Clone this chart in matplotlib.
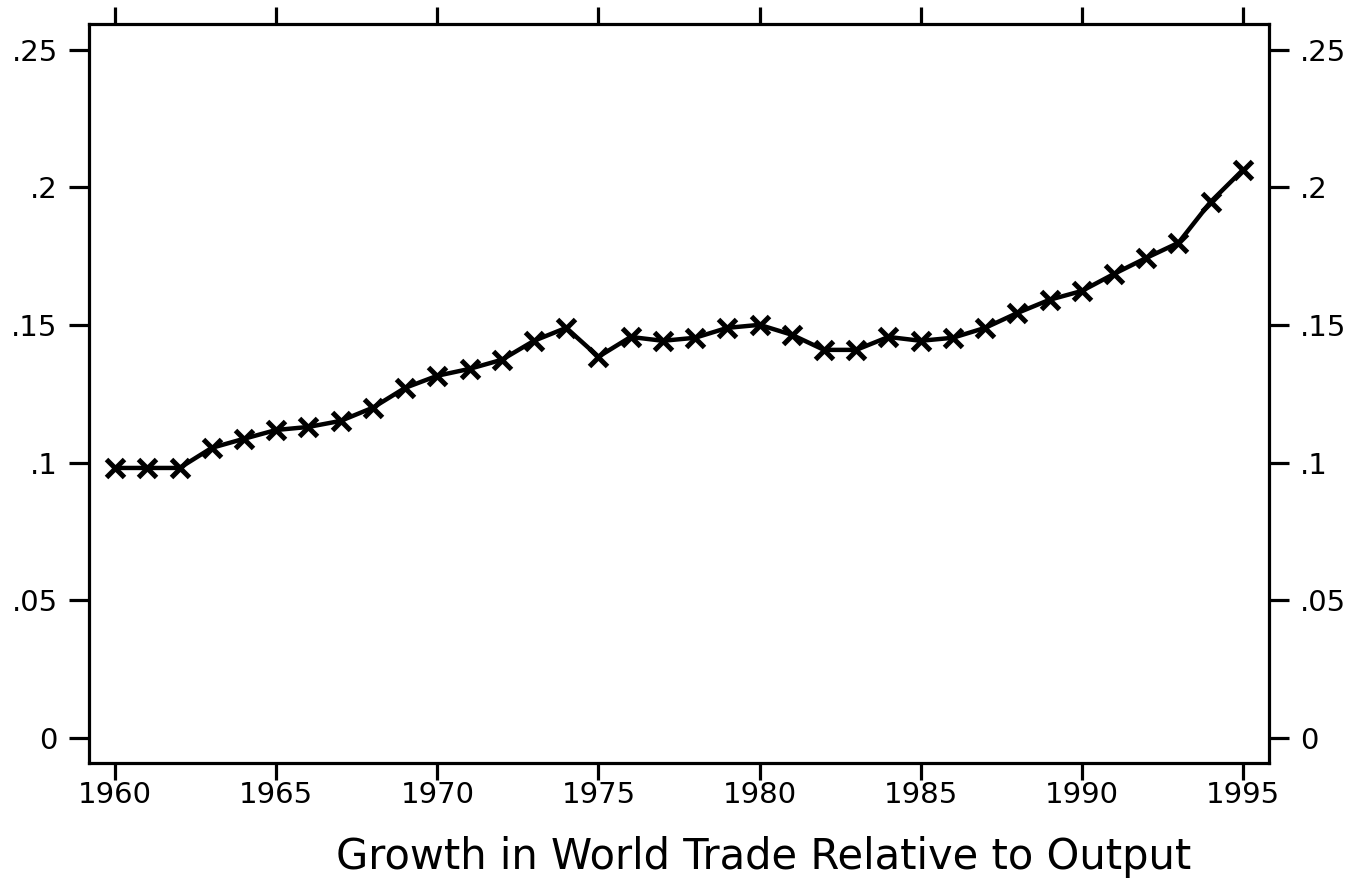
import matplotlib
matplotlib.use("Agg")
import matplotlib.pyplot as plt
from matplotlib.ticker import FuncFormatter

# trade share of world output, 1960-1995
years = list(range(1960, 1996))
trade_share = [0.0981, 0.0981, 0.0981, 0.1054, 0.1087, 0.1119, 0.1130, 0.1152,
               0.1200, 0.1272, 0.1316, 0.1341, 0.1374, 0.1443, 0.1490, 0.1385,
               0.1457, 0.1443, 0.1454, 0.1490, 0.1501, 0.1465, 0.1410, 0.1410,
               0.1457, 0.1443, 0.1454, 0.1490, 0.1544, 0.1592, 0.1624, 0.1686,
               0.1744, 0.1799, 0.1948, 0.2064]
x_ticks = [1960, 1965, 1970, 1975, 1980, 1985, 1990, 1995]
y_ticks = [0, 0.05, 0.10, 0.15, 0.20, 0.25]
title = "Growth in World Trade Relative to Output"

plt.rcParams['font.family'] = ['DejaVu Sans']

fig = plt.figure(figsize=(13.52, 8.86), dpi=100)
ax = fig.add_axes([89 / 1352, 1 - 763 / 886, 1180 / 1352, 739 / 886])

ax.plot(years, trade_share, color='black', linewidth=3.2, marker='x',
        markersize=12.5, markeredgewidth=3.6, solid_joinstyle='round')

ax.set_xlim(1959.19, 1995.81)
ax.set_ylim(-0.0091, 0.2594)
ax.set_xticks(x_ticks)
ax.set_yticks(y_ticks)


def strip_zero(v, pos):
    if abs(v) < 1e-9:
        return '0'
    return ('%g' % round(v, 2)).lstrip('0')


ax.yaxis.set_major_formatter(FuncFormatter(strip_zero))

for side in ax.spines.values():
    side.set_linewidth(2.3)

ax.tick_params(axis='x', which='major', direction='out', length=12, width=2.3,
               top=True, labeltop=False, labelsize=21, pad=1)
ax.tick_params(axis='y', which='major', direction='out', length=14.5, width=2.3,
               right=True, labelright=True, labelsize=21, pad=8)

fig.text(764 / 1352, 1 - 857 / 886, title, ha='center', va='center', fontsize=30)

fig.savefig('out.png', dpi=100)
